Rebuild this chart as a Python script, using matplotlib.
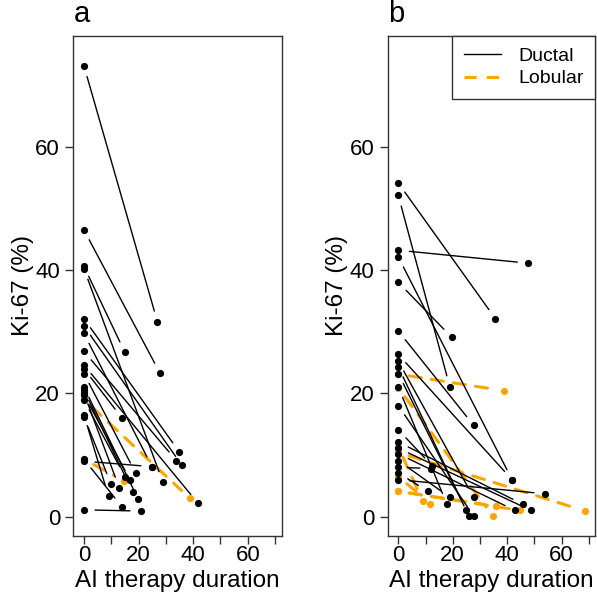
import matplotlib.pyplot as plt
from matplotlib.lines import Line2D

plt.rcParams['font.family'] = ['Liberation Sans', 'DejaVu Sans']

# Panel a: Ki-67 at baseline (time 0) and after AI therapy (duration, Ki-67)
a_ductal_start = [73.1, 46.5, 40.6, 40.2, 32.1, 30.9, 29.7, 26.8, 24.6, 24.0, 23.2,
                  21.0, 20.5, 19.7, 18.9, 20.0, 16.2, 16.5, 9.3, 9.0, 1.1]
a_ductal_time = [26.9, 27.8, 14.9, 28.9, 34.9, 35.9, 24.9, 33.8, 41.7, 13.9, 18.9,
                 19.9, 17.8, 17.0, 15.0, 12.9, 9.9, 9.0, 13.9, 24.9, 20.9]
a_ductal_end = [31.6, 23.3, 26.7, 5.6, 10.5, 8.3, 8.1, 9.1, 2.2, 16.0, 7.1,
                2.8, 4.0, 5.9, 6.5, 4.7, 5.3, 3.3, 1.6, 8.1, 0.9]
a_lobular_start = [19.0, 9.3]
a_lobular_time = [38.7, 14.6]
a_lobular_end = [3.0, 5.8]

# Panel b
b_ductal_start = [54.1, 52.1, 43.2, 42.1, 38.0, 30.1, 26.3, 25.2, 24.3, 23.2,
                  21.0, 18.0, 14.1, 12.1, 11.1, 10.2, 9.1, 8.0, 7.1, 6.0]
b_ductal_time = [35.7, 18.9, 47.8, 41.8, 19.6, 27.7, 41.8, 27.7, 25.9, 24.9,
                 17.8, 27.7, 12.5, 45.8, 48.8, 42.9, 19.0, 12.0, 10.8, 53.9]
b_ductal_end = [32.1, 21.1, 41.1, 6.0, 29.1, 14.8, 6.0, 3.1, 0.1, 1.1,
                2.1, 0.1, 8.2, 2.0, 1.0, 1.0, 3.1, 7.8, 4.1, 3.7]
b_lobular_start = [23.1, 20.9, 10.4, 4.1, 4.1, 11.3, 6.5]
b_lobular_time = [39.0, 34.7, 68.7, 44.8, 35.9, 8.9, 11.8]
b_lobular_end = [20.4, 0.1, 0.9, 1.0, 1.7, 2.6, 2.1]

x_ticks = [0, 10, 20, 30, 40, 50, 60, 70]
x_labels = ['0', '', '20', '', '40', '', '60', '']
y_ticks = [0, 20, 40, 60]

orange = '#FFA500'


def draw_group(ax, starts, times, ends, color, ls, lw):
    for y0, x1, y1 in zip(starts, times, ends):
        ax.annotate('', xy=(x1, y1), xytext=(0, y0),
                    arrowprops=dict(arrowstyle='-', color=color, lw=lw,
                                    linestyle=ls, shrinkA=8, shrinkB=8))
    ax.scatter([0] * len(starts) + times, starts + ends, s=27, color=color,
               linewidths=0, zorder=3)


fig = plt.figure(figsize=(5.97, 6.11), dpi=100)
ax_a = fig.add_axes([0.1228, 0.1232, 0.349, 0.8184])
ax_b = fig.add_axes([0.6494, 0.1232, 0.3477, 0.8184])

panels = [
    (ax_a, 'a', a_ductal_start, a_ductal_time, a_ductal_end,
     a_lobular_start, a_lobular_time, a_lobular_end),
    (ax_b, 'b', b_ductal_start, b_ductal_time, b_ductal_end,
     b_lobular_start, b_lobular_time, b_lobular_end),
]

for ax, tag, ds, dt, de, ls_, lt, le in panels:
    ax.set_xlim(-3.9, 72.4)
    ax.set_ylim(-3.1, 78)
    draw_group(ax, ls_, lt, le, orange, (0, (4, 3.3)), 2.2)
    draw_group(ax, ds, dt, de, 'black', '-', 1.0)
    ax.set_xticks(x_ticks)
    ax.set_xticklabels(x_labels)
    ax.set_yticks(y_ticks)
    ax.tick_params(axis='both', length=5.5, width=1, labelsize=16, color='#333333')
    ax.tick_params(axis='x', pad=1.5)
    ax.tick_params(axis='y', pad=4)
    for sp in ax.spines.values():
        sp.set_linewidth(1.0)
        sp.set_color('#333333')
    ax.set_xlabel('AI therapy duration', fontsize=17.5, va='center')
    ax.xaxis.set_label_coords(0.5, -0.09)
    ax.set_ylabel('Ki-67 (%)', fontsize=17.5, va='center')
    ax.yaxis.set_label_coords(-0.243, 0.5)
    ax.set_title(tag, loc='left', fontsize=21, pad=10)

handles = [Line2D([], [], color='black', lw=1.0),
           Line2D([], [], color=orange, lw=2.2, linestyle=(0, (4, 3.3)))]
leg = ax_b.legend(handles, ['Ductal', 'Lobular'], loc='upper right',
                  borderaxespad=0, fancybox=False, framealpha=1,
                  edgecolor='#333333', fontsize=14, handlelength=1.9,
                  handletextpad=0.9, borderpad=0.6, labelspacing=0.25)
leg.get_frame().set_linewidth(1.0)

fig.savefig('out.png', dpi=100)
